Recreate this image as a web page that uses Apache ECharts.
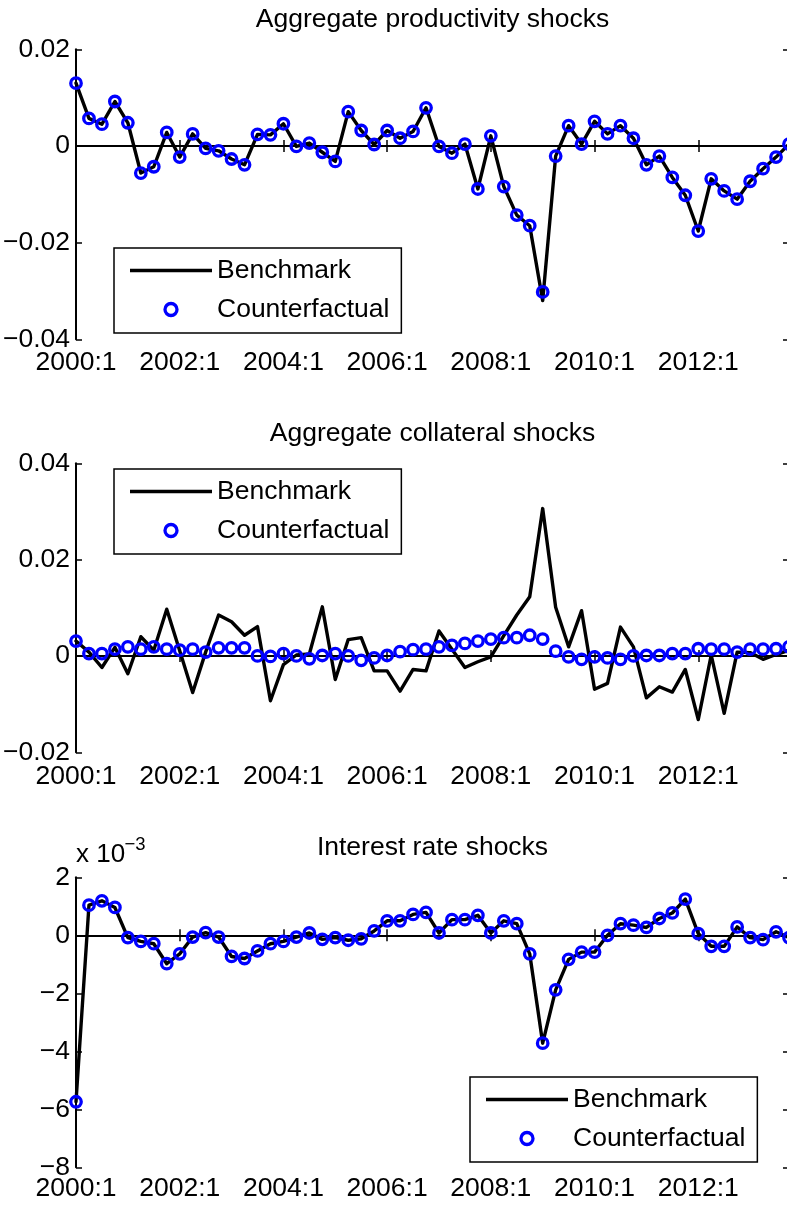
<!DOCTYPE html>
<html><head><meta charset="utf-8">
<script src="https://cdn.jsdelivr.net/npm/echarts@6/dist/echarts.min.js"></script>
<style>html,body{margin:0;padding:0;background:#fff}#c{width:787px;height:1206px}</style>
</head><body><div id="c"></div>
<script>
const quarters = [
 '2000:1','2000:2','2000:3','2000:4','2001:1','2001:2','2001:3','2001:4',
 '2002:1','2002:2','2002:3','2002:4','2003:1','2003:2','2003:3','2003:4',
 '2004:1','2004:2','2004:3','2004:4','2005:1','2005:2','2005:3','2005:4',
 '2006:1','2006:2','2006:3','2006:4','2007:1','2007:2','2007:3','2007:4',
 '2008:1','2008:2','2008:3','2008:4','2009:1','2009:2','2009:3','2009:4',
 '2010:1','2010:2','2010:3','2010:4','2011:1','2011:2','2011:3','2011:4',
 '2012:1','2012:2','2012:3','2012:4','2013:1','2013:2','2013:3','2013:4'
];
const panelTitles = ['Aggregate productivity shocks','Aggregate collateral shocks','Interest rate shocks'];
const legendNames = ['Benchmark','Counterfactual'];

const productivityBenchmark = [
 0.0130, 0.0057, 0.0045, 0.0092, 0.0048, -0.0056, -0.0043, 0.0028,
 -0.0023, 0.0025, -0.0005, -0.0010, -0.0027, -0.0039, 0.0024, 0.0023,
 0.0046, -0.0001, 0.0006, -0.0013, -0.0032, 0.0071, 0.0032, 0.0003,
 0.0032, 0.0016, 0.0030, 0.0079, -0.0001, -0.0015, 0.0004, -0.0089,
 0.0021, -0.0084, -0.0143, -0.0165, -0.0320, -0.0021, 0.0042, 0.0004,
 0.0051, 0.0025, 0.0042, 0.0016, -0.0039, -0.0021, -0.0065, -0.0102,
 -0.0176, -0.0068, -0.0093, -0.0110, -0.0073, -0.0047, -0.0023, 0.0004
];
const productivityCounterfactual = [
 0.0130, 0.0057, 0.0045, 0.0092, 0.0048, -0.0056, -0.0043, 0.0028,
 -0.0023, 0.0025, -0.0005, -0.0010, -0.0027, -0.0039, 0.0024, 0.0023,
 0.0046, -0.0001, 0.0006, -0.0013, -0.0032, 0.0071, 0.0032, 0.0003,
 0.0032, 0.0016, 0.0030, 0.0079, -0.0001, -0.0015, 0.0004, -0.0089,
 0.0021, -0.0084, -0.0143, -0.0165, -0.0302, -0.0021, 0.0042, 0.0004,
 0.0051, 0.0025, 0.0042, 0.0016, -0.0039, -0.0021, -0.0065, -0.0102,
 -0.0176, -0.0068, -0.0093, -0.0110, -0.0073, -0.0047, -0.0023, 0.0004
];
const collateralBenchmark = [
 0.0031, 0.0008, -0.0024, 0.0018, -0.0037, 0.0040, 0.0012, 0.0097,
 0.0011, -0.0076, 0.0008, 0.0085, 0.0071, 0.0043, 0.0061, -0.0093,
 -0.0018, 0.0002, 0.0004, 0.0102, -0.0049, 0.0034, 0.0038, -0.0031,
 -0.0031, -0.0073, -0.0028, -0.0031, 0.0052, 0.0014, -0.0024, -0.0012,
 -0.0002, 0.0042, 0.0085, 0.0123, 0.0306, 0.0101, 0.0019, 0.0094,
 -0.0069, -0.0057, 0.0060, 0.0019, -0.0087, -0.0064, -0.0075, -0.0028,
 -0.0132, 0.0002, -0.0119, 0.0008, 0.0007, -0.0007, 0.0003, 0.0012
];
const collateralCounterfactual = [
 0.0031, 0.0005, 0.0005, 0.0014, 0.0019, 0.0014, 0.0019, 0.0014,
 0.0012, 0.0014, 0.0008, 0.0017, 0.0017, 0.0017, 0.0000, -0.0001,
 0.0005, 0.0000, -0.0006, 0.0001, 0.0005, 0.0000, -0.0009, -0.0004,
 0.0001, 0.0009, 0.0013, 0.0014, 0.0019, 0.0022, 0.0026, 0.0031,
 0.0035, 0.0038, 0.0038, 0.0043, 0.0035, 0.0010, -0.0002, -0.0007,
 -0.0002, -0.0004, -0.0007, 0.0000, 0.0001, 0.0001, 0.0005, 0.0005,
 0.0015, 0.0014, 0.0014, 0.0008, 0.0014, 0.0014, 0.0015, 0.0019
];
// interest rate shocks, in units of 1e-3
const interestBenchmark = [
 -5.74, 1.04, 1.19, 0.96, -0.08, -0.21, -0.29, -0.98,
 -0.64, -0.06, 0.09, -0.06, -0.73, -0.80, -0.54, -0.29,
 -0.21, -0.06, 0.08, -0.14, -0.08, -0.17, -0.12, 0.15,
 0.50, 0.50, 0.72, 0.79, 0.08, 0.54, 0.54, 0.69,
 0.08, 0.50, 0.40, -0.64, -3.72, -1.88, -0.83, -0.58,
 -0.58, 0.00, 0.40, 0.35, 0.27, 0.58, 0.77, 1.25,
 0.06, -0.38, -0.38, 0.29, -0.08, -0.15, 0.12, -0.08
];
const interestCounterfactual = [
 -5.74, 1.04, 1.19, 0.96, -0.08, -0.21, -0.29, -0.98,
 -0.64, -0.06, 0.09, -0.06, -0.73, -0.80, -0.54, -0.29,
 -0.21, -0.06, 0.08, -0.14, -0.08, -0.17, -0.12, 0.15,
 0.50, 0.50, 0.72, 0.79, 0.08, 0.54, 0.54, 0.69,
 0.08, 0.50, 0.40, -0.64, -3.72, -1.88, -0.83, -0.58,
 -0.58, 0.00, 0.40, 0.35, 0.27, 0.58, 0.77, 1.25,
 0.06, -0.38, -0.38, 0.29, -0.08, -0.15, 0.12, -0.08
];
const yTicks = [
 {min: -0.04, max: 0.02, interval: 0.02, dec: 2},
 {min: -0.02, max: 0.04, interval: 0.02, dec: 2},
 {min: -8, max: 2, interval: 2, dec: 0}
];

const FONT = "'Liberation Sans', Arial, Helvetica, sans-serif";
const FS = 26.5;
const layout = [
 {top: 49.3, height: 290, titleTop: 6.5, xMargin: 9.5, legend: {left: 114, top: 248}},
 {top: 463.3, height: 289, titleTop: 420.7, xMargin: 10.5, legend: {left: 114, top: 469}},
 {top: 877.3, height: 290, titleTop: 834.5, xMargin: 8, legend: {left: 470, top: 1077}}
];
const benches = [productivityBenchmark, collateralBenchmark, interestBenchmark];
const cfs = [productivityCounterfactual, collateralCounterfactual, interestCounterfactual];

const axisLine = {show: true, lineStyle: {color: '#000', width: 2}};
const tick = {show: true, inside: true, length: 6, lineStyle: {color: '#000', width: 1.5}};
const grid = [], xAxis = [], yAxis = [], series = [], title = [], legend = [];
layout.forEach((L, k) => {
  const t = yTicks[k];
  grid.push({left: 76, width: 713, top: L.top, height: L.height, containLabel: false, outerBoundsMode: 'none'});
  const fmt = v => {
    if (Math.abs(v) < 1e-12) return '0';
    return (v < 0 ? '\u2212' : '') + Math.abs(v).toFixed(t.dec);
  };
  xAxis.push({type: 'category', gridIndex: k, data: quarters, boundaryGap: false, position: 'bottom',
    axisLine, axisTick: Object.assign({interval: 7}, tick),
    axisLabel: {show: true, interval: 7, margin: L.xMargin, color: '#000', fontSize: FS, fontFamily: FONT},
    splitLine: {show: false}});
  xAxis.push({type: 'category', gridIndex: k, data: quarters, boundaryGap: false, position: 'top',
    axisLine, axisTick: Object.assign({interval: 7}, tick),
    axisLabel: {show: false}, splitLine: {show: false}});
  yAxis.push({type: 'value', gridIndex: k, min: t.min, max: t.max, interval: t.interval, position: 'left',
    axisLine, axisTick: tick,
    axisLabel: {show: true, margin: 6, color: '#000', fontSize: FS, fontFamily: FONT, formatter: fmt},
    splitLine: {show: false}});
  yAxis.push({type: 'value', gridIndex: k, min: t.min, max: t.max, interval: t.interval, position: 'right',
    axisLine, axisTick: tick, axisLabel: {show: false}, splitLine: {show: false}});
  series.push({type: 'line', name: legendNames[0], xAxisIndex: 2 * k, yAxisIndex: 2 * k, data: benches[k],
    symbol: 'none', lineStyle: {color: '#000', width: 3.4, join: 'round', cap: 'round'},
    itemStyle: {color: '#000'}, z: 2, silent: true});
  series.push({type: 'scatter', name: legendNames[1], xAxisIndex: 2 * k, yAxisIndex: 2 * k, data: cfs[k],
    symbol: 'circle', symbolSize: 10.5,
    itemStyle: {color: 'rgba(0,0,0,0)', borderColor: '#0000ff', borderWidth: 3.3, opacity: 1}, z: 3, silent: true});
  title.push({text: panelTitles[k], left: 432.5, top: L.titleTop, textAlign: 'center', padding: 0,
    textStyle: {fontSize: FS, fontWeight: 'normal', color: '#000', fontFamily: FONT, lineHeight: FS}});
  legend.push({orient: 'vertical', left: L.legend.left, top: L.legend.top, itemWidth: 82, itemHeight: 12,
    itemGap: 12, padding: [9, 12, 10, 16], borderColor: '#000', borderWidth: 1.5, borderRadius: 0,
    backgroundColor: '#fff', selectedMode: false,
    textStyle: {fontSize: FS, fontFamily: FONT, color: '#000', lineHeight: 26},
    data: [
      {name: legendNames[0], icon: 'path://M0,0H82V3.4H0Z', itemStyle: {color: '#000', borderWidth: 0}},
      {name: legendNames[1], icon: 'circle', itemStyle: {color: 'rgba(0,0,0,0)', borderColor: '#0000ff', borderWidth: 3.3}}
    ]});
});

const chart = echarts.init(document.getElementById('c'), null, {renderer: 'canvas'});
chart.setOption({
  animation: false,
  backgroundColor: '#fff',
  title, legend, grid, xAxis, yAxis, series,
  graphic: [
    {type: 'text', left: 76, top: 842, style: {text: 'x 10', fontSize: 26, fontFamily: FONT, fill: '#000'}},
    {type: 'text', left: 124.5, top: 835.5, style: {text: '\u22123', fontSize: 18.5, fontFamily: FONT, fill: '#000'}}
  ]
});
</script></body></html>
